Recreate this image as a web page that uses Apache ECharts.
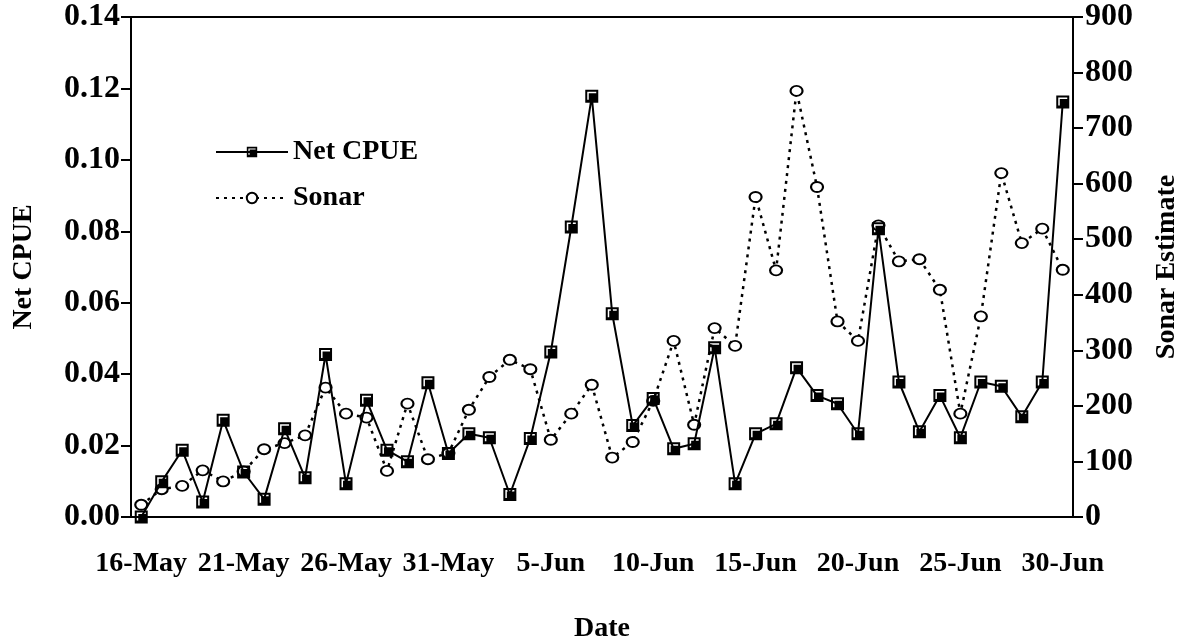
<!DOCTYPE html>
<html>
<head>
    <meta charset="utf-8">
    <title>Net CPUE and Sonar</title>
    <script src="https://cdn.jsdelivr.net/npm/echarts@6/dist/echarts.min.js"></script>
</head>
<body style="margin:0;background:#fff">
    <div id="main" style="width:1182px;height:640px;"></div>
    <script type="text/javascript">
        // one category per day
        var dates = ['16-May', '17-May', '18-May', '19-May', '20-May', '21-May', '22-May', '23-May',
            '24-May', '25-May', '26-May', '27-May', '28-May', '29-May', '30-May', '31-May',
            '1-Jun', '2-Jun', '3-Jun', '4-Jun', '5-Jun', '6-Jun', '7-Jun', '8-Jun', '9-Jun', '10-Jun',
            '11-Jun', '12-Jun', '13-Jun', '14-Jun', '15-Jun', '16-Jun', '17-Jun', '18-Jun', '19-Jun',
            '20-Jun', '21-Jun', '22-Jun', '23-Jun', '24-Jun', '25-Jun', '26-Jun', '27-Jun', '28-Jun',
            '29-Jun', '30-Jun'];

        var netCpue = [0.000, 0.0099, 0.0187, 0.0042, 0.0271, 0.0126, 0.0050, 0.0247, 0.0110, 0.0455,
            0.0093, 0.0327, 0.0187, 0.0155, 0.0376, 0.0178,
            0.0233, 0.0222, 0.0063, 0.0220, 0.0462, 0.0812, 0.1178, 0.0569, 0.0256, 0.0332,
            0.0191, 0.0205, 0.0474, 0.0093, 0.0233, 0.0261, 0.0418, 0.0340, 0.0317, 0.0233,
            0.0807, 0.0378, 0.0239, 0.0340, 0.0222, 0.0378, 0.0366, 0.0281, 0.0378, 0.1162];

        var sonar = [22, 50, 56, 84, 64, 82, 122, 133, 147, 233, 186, 179, 83, 204, 104, 115,
            193, 252, 283, 266, 139, 186, 238, 107, 135, 209, 317, 166, 340, 308,
            576, 444, 767, 594, 352, 317, 525, 460, 464, 409, 186, 361, 619, 493, 519, 445];

        var cpueTicks = [0, 0.14, 0.02];
        var sonarTicks = [0, 900, 100];

        var font = 'Liberation Serif';
        // black square with a white L inside, like the old spreadsheet marker
        var squareMark = 'path://M0 0L13 0L13 13L0 13ZM2 2L2 10L3.5 10L3.5 3.5L11 3.5L11 2Z';

        var myChart = echarts.init(document.getElementById('main'));
        var option = {
            animation: false,
            backgroundColor: '#fff',
            textStyle: { fontFamily: font, fontWeight: 'bold', color: '#000' },
            grid: {
                left: 131, right: 109, top: 17, bottom: 123,
                containLabel: false, outerBoundsMode: 'none',
                show: true, borderColor: '#000', borderWidth: 2
            },
            legend: {
                left: 210, top: 133, orient: 'vertical',
                itemWidth: 72, itemHeight: 13, itemGap: 18,
                textStyle: { fontFamily: font, fontWeight: 'bold', fontSize: 28, color: '#000' },
                data: ['Net CPUE', 'Sonar']
            },
            xAxis: [{
                type: 'category',
                data: dates,
                name: 'Date',
                nameLocation: 'middle',
                nameGap: 98,
                nameTextStyle: { fontFamily: font, fontWeight: 'bold', fontSize: 28, color: '#000' },
                axisLine: { lineStyle: { color: '#000', width: 2 } },
                axisTick: { interval: 0, inside: true, length: 7, lineStyle: { color: '#000', width: 2 } },
                axisLabel: { interval: 4, margin: 33, fontFamily: font, fontWeight: 'bold', fontSize: 28, color: '#000' }
            }, {
                // longer ticks every 5 days, below the axis
                type: 'category',
                data: dates,
                position: 'bottom',
                axisLine: { show: false },
                axisTick: { interval: 4, length: 8, lineStyle: { color: '#000', width: 2 } },
                axisLabel: { show: false }
            }],
            yAxis: [{
                type: 'value',
                min: cpueTicks[0], max: cpueTicks[1], interval: cpueTicks[2],
                name: 'Net CPUE',
                nameLocation: 'middle',
                nameGap: 93,
                nameTextStyle: { fontFamily: font, fontWeight: 'bold', fontSize: 28, color: '#000' },
                axisLine: { show: true, lineStyle: { color: '#000', width: 2 } },
                axisTick: { show: true, length: 10, lineStyle: { color: '#000', width: 2 } },
                axisLabel: {
                    margin: 11, fontFamily: font, fontWeight: 'bold', fontSize: 32, color: '#000',
                    formatter: function (v) { return v.toFixed(2); }
                },
                splitLine: { show: false }
            }, {
                type: 'value',
                min: sonarTicks[0], max: sonarTicks[1], interval: sonarTicks[2],
                name: 'Sonar Estimate',
                nameLocation: 'middle',
                nameGap: 80,
                nameRotate: 90,
                nameTextStyle: { fontFamily: font, fontWeight: 'bold', fontSize: 28, color: '#000' },
                axisLine: { show: true, lineStyle: { color: '#000', width: 2 } },
                axisTick: { show: true, length: 10, lineStyle: { color: '#000', width: 2 } },
                axisLabel: { margin: 12, fontFamily: font, fontWeight: 'bold', fontSize: 32, color: '#000' },
                splitLine: { show: false }
            }],
            series: [{
                name: 'Sonar',
                type: 'line',
                yAxisIndex: 1,
                data: sonar,
                symbol: 'emptyCircle',
                symbolSize: [12, 10],
                showAllSymbol: true,
                itemStyle: { color: '#000', borderWidth: 2 },
                lineStyle: { color: '#000', width: 2.5, type: [3, 5] },
                z: 2
            }, {
                name: 'Net CPUE',
                type: 'line',
                yAxisIndex: 0,
                data: netCpue,
                symbol: squareMark,
                symbolSize: 13,
                showAllSymbol: true,
                itemStyle: { color: '#000' },
                lineStyle: { color: '#000', width: 2 },
                z: 3
            }]
        };
        myChart.setOption(option);
    </script>
</body>
</html>
